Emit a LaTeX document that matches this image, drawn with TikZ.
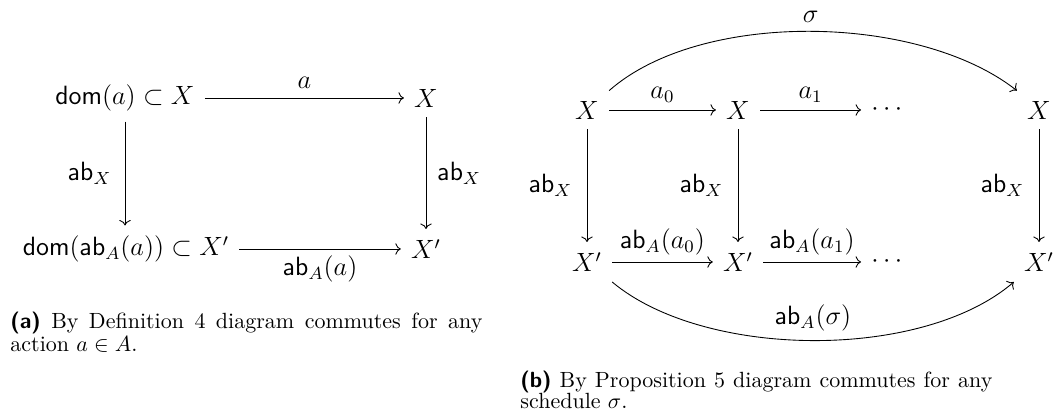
\documentclass[tikz,border=0pt]{standalone}
\usepackage{amsmath,amssymb}
\usetikzlibrary{arrows.meta}
\begin{document}
\begin{tikzpicture}[x=0.4545pt,y=-0.4545pt,
  obj/.style={inner sep=4.5pt, font=\fontsize{12}{14}\selectfont},
  lbl/.style={inner sep=0pt, font=\fontsize{12}{14}\selectfont},
  arr/.style={-{To}, line width=0.4pt},
  captext/.style={inner sep=0pt, anchor=base west, font=\fontsize{10}{12}\selectfont}]
\useasboundingbox (0,0) rectangle (1053,416);
% ---------- (a) ----------
\node[obj] (A1) at (125,98) {$\mathsf{dom}(a)\subset X$};
\node[obj] (A2) at (426,98) {$X$};
\node[obj] (A3) at (126,249) {$\mathsf{dom}(\mathsf{ab}_A(a))\subset X'$};
\node[obj] (A4) at (426,249) {$X'$};
\draw[arr] (A1) -- node[lbl, midway, above=4pt] {$a$} (A2);
\draw[arr] (A3) -- node[lbl, midway, below=3pt] {$\mathsf{ab}_A(a)$} (A4);
\draw[arr] (A1.south) -- node[lbl, midway, left=6pt] {$\mathsf{ab}_X$} (A1.south |- A3.north);
\draw[arr] (A2) -- node[lbl, midway, right=5pt] {$\mathsf{ab}_X$} (A4);
% ---------- (b) ----------
\node[obj] (B1) at (587,110) {$X$};
\node[obj] (B2) at (738,110) {$X$};
\node[obj] (B3) at (889,110) {$\cdots$};
\node[obj] (B4) at (1039,110) {$X$};
\node[obj] (C1) at (587,262) {$X'$};
\node[obj] (C2) at (738,262) {$X'$};
\node[obj] (C3) at (889,262) {$\cdots$};
\node[obj] (C4) at (1039,262) {$X'$};
\draw[arr] (B1) -- node[lbl, midway, above=3pt] {$a_0$} (B2);
\draw[arr] (B2) -- node[lbl, midway, above=3pt] {$a_1$} (B3);
\draw[arr] (C1) -- node[lbl, midway, above=3pt] {$\mathsf{ab}_A(a_0)$} (C2);
\draw[arr] (C2) -- node[lbl, midway, above=3pt] {$\mathsf{ab}_A(a_1)$} (C3);
\draw[arr] (B1) -- node[lbl, midway, left=6.5pt] {$\mathsf{ab}_X$} (C1);
\draw[arr] (B2) -- node[lbl, midway, left=6.5pt] {$\mathsf{ab}_X$} (C2);
\draw[arr] (B4) -- node[lbl, midway, left=6.5pt] {$\mathsf{ab}_X$} (C4);
\draw[arr] (B1.north east) .. controls +(92,-81) and +(-98,-77) .. node[lbl, pos=0.5, above=4pt] {$\sigma$} (B4.north west);
\draw[arr] (C1.south east) .. controls +(92,77) and +(-92,79) .. node[lbl, pos=0.5, above=4pt] {$\mathsf{ab}_A(\sigma)$} (C4.south west);
% ---------- captions ----------
\node[captext] (capa1) at (10,329) {\hbox to 214.5pt{\textsf{\textbf{(a)}} By Definition 4 diagram commutes for any}};
\node[captext] (capa2) at (10,352) {action $a\in A$.};
\node[captext] (capb1) at (520,388) {\hbox to 214.5pt{\textsf{\textbf{(b)}} By Proposition 5 diagram commutes for any}};
\node[captext] (capb2) at (520,409) {schedule $\sigma$.};
\end{tikzpicture}
\end{document}
